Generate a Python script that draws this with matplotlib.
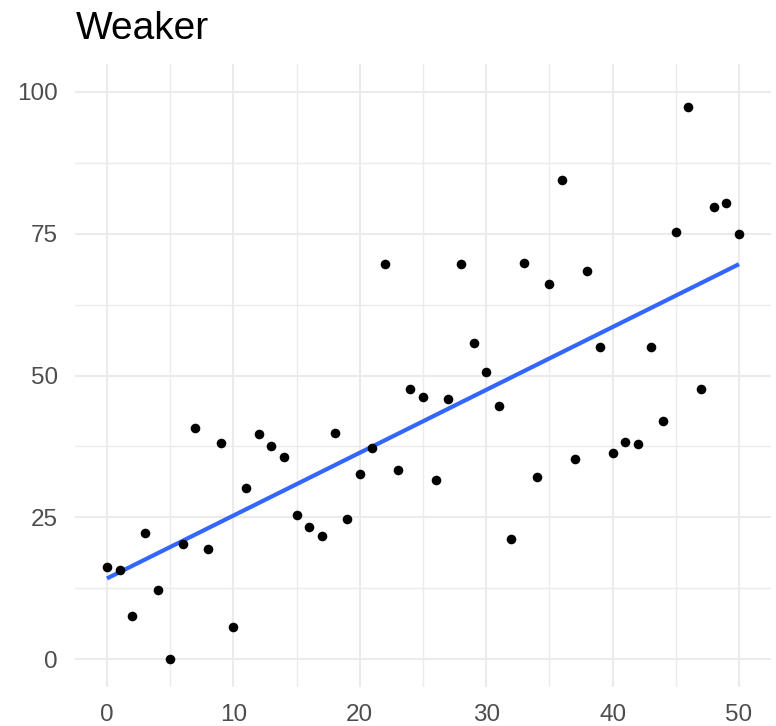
import numpy as np
import matplotlib
matplotlib.use("Agg")
import matplotlib.pyplot as plt
from matplotlib.ticker import MultipleLocator

plt.rcParams['font.family'] = ['Liberation Sans', 'DejaVu Sans']

x_vals = list(range(51))
y_vals = [16.2, 15.7, 7.6, 22.2, 12.2, 0.0, 20.3, 40.7, 19.4, 38.1,
          5.6, 30.2, 39.7, 37.6, 35.6, 25.4, 23.3, 21.7, 39.9, 24.7,
          32.6, 37.2, 69.7, 33.3, 47.6, 46.2, 31.6, 45.9, 69.7, 55.7,
          50.6, 44.6, 21.2, 69.8, 32.1, 66.1, 84.5, 35.3, 68.4, 55.0,
          36.3, 38.3, 37.9, 55.0, 42.0, 75.3, 97.4, 47.6, 79.7, 80.4,
          75.0]
x_ticks = [0, 10, 20, 30, 40, 50]
y_ticks = [0, 25, 50, 75, 100]
title = "Weaker"

x = np.array(x_vals, dtype=float)
y = np.array(y_vals, dtype=float)

fig = plt.figure(figsize=(7.76, 7.26), dpi=100)
ax = fig.add_axes([75.4 / 776, (726 - 687.4) / 726, 695.2 / 776, 623.8 / 726])

ax.set_xlim(-2.5, 52.5)
ax.set_ylim(-5, 105)

ax.set_xticks(x_ticks)
ax.set_yticks(y_ticks)
ax.xaxis.set_minor_locator(MultipleLocator(5))
ax.yaxis.set_minor_locator(MultipleLocator(12.5))
ax.grid(which='major', color='#EBEBEB', linewidth=1.5)
ax.grid(which='minor', color='#EBEBEB', linewidth=1.0)
ax.set_axisbelow(True)
for s in ax.spines.values():
    s.set_visible(False)
ax.tick_params(which='both', length=0)
ax.tick_params(axis='both', labelsize=17.5, labelcolor='#4D4D4D')
ax.tick_params(axis='y', pad=12.5)
ax.tick_params(axis='x', pad=12)

# least-squares trend line
slope, intercept = np.polyfit(x, y, 1)
xf = np.array([x.min(), x.max()])
ax.plot(xf, intercept + slope * xf, color='#3366FF', linewidth=3.0, zorder=2,
        solid_capstyle='butt')

ax.scatter(x, y, s=48, color='black', linewidths=0, zorder=3)

ax.set_title(title, loc='left', fontsize=28, pad=18, color='black')

fig.savefig("out.png", dpi=100)
